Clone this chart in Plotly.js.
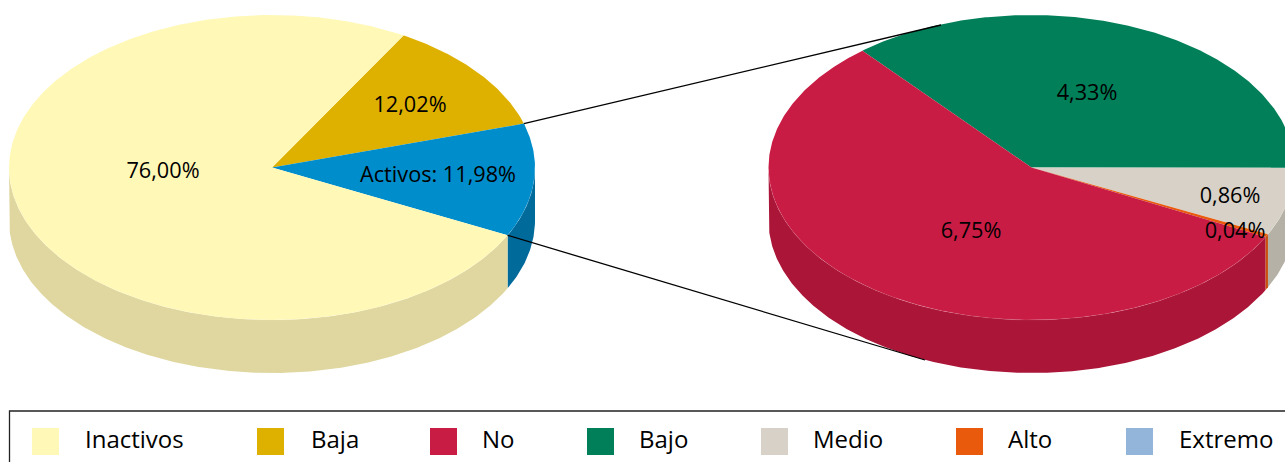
<!DOCTYPE html>
<html>
<head>
<meta charset="utf-8">
<script src="https://cdn.plot.ly/plotly-3.0.1.min.js"></script>
<style>html,body{margin:0;padding:0;background:#fff;overflow:hidden}</style>
</head>
<body>
<div id="chart" style="width:1285px;height:462px"></div>
<script>
// Data
const mainLabels = ["Baja", "Activos", "Inactivos"];
const mainValues = [12.02, 11.98, 76.00];
const mainText = ["12,02%", "Activos: 11,98%", "76,00%"];
const detailLabels = ["Bajo", "Medio", "Alto", "Extremo", "No"];
const detailValues = [4.33, 0.86, 0.04, 0, 6.75];
const detailText = ["4,33%", "0,86%", "0,04%", "", "6,75%"];
const legendLabels = ["Inactivos", "Baja", "No", "Bajo", "Medio", "Alto", "Extremo"];

// Styles and layout (not data)
const topColors = {Inactivos:"#fff8b6", Baja:"#deb100", Activos:"#008dcb", No:"#c91c44", Bajo:"#007f58", Medio:"#d8d1c7", Alto:"#e95a0c", Extremo:"#92b5d9"};
const sideColors = {Inactivos:"#e0d7a0", Baja:"#b89300", Activos:"#006a9b", No:"#ab1537", Bajo:"#006647", Medio:"#b6b1a6", Alto:"#c9500c", Extremo:"#7d9bbb"};
const W = 1285, H = 462, RX = 263, RY = 152.5, DEPTH = 53;
const mainPie = {cx:272, cy:167.5, start:60};
const detailPie = {cx:1031.5, cy:167.5, start:130};
const mainTextPos = [[410,107],[438,177],[163,172.5]];
const detailTextPos = [[1087,95],[1230,198],[1235,233],null,[971,233]];
const connectorEnds = [[941,25],[925,360]];
const swatchX = [45.5,270.5,443.5,600.5,774.5,969.5,1139.5];
const legendTextX = [85,311,482,639,813,1008,1179];
const legendY = 441.5;
const FONT = "'Open Sans', sans-serif";

function pt(p, deg, dy){
  const r = deg*Math.PI/180;
  return [p.cx + RX*Math.cos(r), p.cy - RY*Math.sin(r) + (dy||0)];
}
function arc(p, a, b, dy){
  const n = Math.max(2, Math.ceil(Math.abs(a-b)*2)), out = [];
  for(let i=0;i<=n;i++) out.push(pt(p, a+(b-a)*i/n, dy));
  return out;
}
function poly(points, color){
  return {type:"scatter", mode:"lines", x:points.map(q=>q[0]), y:points.map(q=>q[1]),
    fill:"toself", fillcolor:color, line:{width:0, color:color}, hoverinfo:"skip", showlegend:false};
}
function angles(p, labels, values){
  const total = values.reduce((s,v)=>s+v,0);
  let a = p.start;
  return labels.map((l,i)=>{ const s=a; a -= values[i]/total*360; return {label:l, from:s, to:a, value:values[i]}; });
}
function pieTraces(p, sl){
  const t = [];
  sl.forEach(s=>{
    const hi = Math.min(s.from,0), lo = Math.max(s.to,-180);
    if(s.value>0 && hi>lo){
      t.push(poly(arc(p,hi,lo,0).concat(arc(p,lo,hi,DEPTH)), sideColors[s.label]));
    }
  });
  sl.forEach(s=>{
    if(s.value>0) t.push(poly([[p.cx,p.cy]].concat(arc(p,s.from,s.to,0)).concat([[p.cx,p.cy]]), topColors[s.label]));
  });
  const rim = arc(p,0,-180,0);
  t.push({type:"scatter", mode:"lines", x:rim.map(q=>q[0]), y:rim.map(q=>q[1]),
    line:{width:0.5, color:"rgba(255,255,255,0.2)"}, hoverinfo:"skip", showlegend:false});
  return t;
}
function textTrace(xs, ys, txt, size, pos){
  return {type:"scatter", mode:"text", x:xs, y:ys, text:txt, textposition:pos,
    textfont:{family:FONT, size:size, color:"#000"}, hoverinfo:"skip", showlegend:false, cliponaxis:false};
}

const mainSl = angles(mainPie, mainLabels, mainValues);
const detailSl = angles(detailPie, detailLabels, detailValues);
const traces = [...pieTraces(mainPie, mainSl), ...pieTraces(detailPie, detailSl)];

const act = mainSl[mainLabels.indexOf("Activos")];
[[act.from,0],[act.to,1]].forEach(([deg,i])=>{
  const s = pt(mainPie,deg,0), e = connectorEnds[i];
  traces.push({type:"scatter", mode:"lines", x:[s[0],e[0]], y:[s[1],e[1]],
    line:{width:1.3,color:"#000"}, hoverinfo:"skip", showlegend:false});
});

const lab = [];
mainText.forEach((t,i)=>lab.push([mainTextPos[i],t]));
detailText.forEach((t,i)=>{ if(t) lab.push([detailTextPos[i],t]); });
traces.push(textTrace(lab.map(l=>l[0][0]), lab.map(l=>l[0][1]), lab.map(l=>l[1]), 21.7, "middle center"));

traces.push({type:"scatter", mode:"markers", x:swatchX, y:swatchX.map(()=>legendY),
  marker:{symbol:"square", size:27, line:{width:0}, color:legendLabels.map(l=>topColors[l])},
  hoverinfo:"skip", showlegend:false});
traces.push(textTrace(legendTextX, legendTextX.map(()=>legendY+0.5), legendLabels, 24, "middle right"));

const layout = {
  width:W, height:H, margin:{l:0,r:0,t:0,b:0}, showlegend:false,
  paper_bgcolor:"#fff", plot_bgcolor:"#fff",
  xaxis:{range:[0,W], visible:false, fixedrange:true},
  yaxis:{range:[H,0], visible:false, fixedrange:true},
  shapes:[{type:"rect", xref:"x", yref:"y", x0:9.5, x1:1320, y0:411, y1:490, line:{color:"#222", width:1.3}, fillcolor:"rgba(0,0,0,0)", layer:"below"}]
};
Plotly.newPlot("chart", traces, layout, {displayModeBar:false, staticPlot:true});
</script>
</body>
</html>
